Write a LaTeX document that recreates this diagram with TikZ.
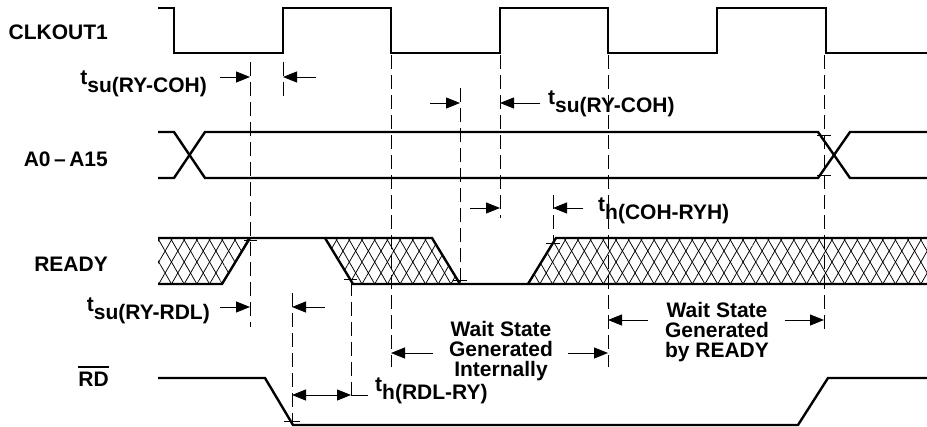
\documentclass[tikz,border=0pt]{standalone}
\usepackage{fontspec}
\setmainfont{Liberation Sans}
\usetikzlibrary{arrows.meta,patterns.meta}

\newcommand{\tparam}[1]{t\raisebox{-7.5pt}{#1}}
\newcommand{\barred}[1]{\setbox0\hbox{#1}\rlap{\rule[19pt]{\wd0}{2.2pt}}\box0}

\tikzset{
  wave/.style={line width=2.4pt,line join=miter},
  guide/.style={line width=0.7pt,dash pattern=on 14pt off 6pt},
  dim/.style={line width=0.9pt,-{Triangle[length=14pt,width=11pt]}},
  tick/.style={line width=0.7pt},
  lbl/.style={inner sep=0pt,font=\fontsize{21}{20}\selectfont\bfseries},
  hatch/.style={preaction={pattern={Lines[angle=60,distance=11pt,line width=0.75pt]}},
    pattern={Lines[angle=-60,distance=11pt,line width=0.75pt]}},
}

\begin{document}
\begin{tikzpicture}[x=1pt,y=-1pt]
    \useasboundingbox (0,0) rectangle (927,427);

    % signal names
    \node[lbl,anchor=base east] (clkname) at (108,40) {CLKOUT1};
    \node[lbl,anchor=base east] (addrname) at (108,167) {A0\,–\,A15};
    \node[lbl,anchor=base east] (rdyname) at (108,272) {READY};
    \node[lbl,anchor=base east] (rdname) at (109,387) {\barred{RD}};

    % waveforms
    \draw[wave] (158,8) -- (174,8) -- (174,53) -- (283,53) -- (283,8) -- (391,8) -- (391,53)
      -- (500,53) -- (500,8) -- (608,8) -- (608,53) -- (717,53) -- (717,8) -- (826,8)
      -- (826,53) -- (927,53);

    \draw[wave] (158,132) -- (174,132) -- (205,178) -- (818,178) -- (850,132) -- (927,132);
    \draw[wave] (158,178) -- (174,178) -- (205,132) -- (818,132) -- (850,178) -- (927,178);

    \fill[hatch] (158,238) -- (250,238) -- (222,284) -- (158,284) -- cycle;
    \fill[hatch] (325,238) -- (432,238) -- (460,284) -- (353,284) -- cycle;
    \fill[hatch] (556,238) -- (927,238) -- (927,284) -- (528,284) -- cycle;
    \draw[wave] (158,238) -- (432,238) -- (460,284);
    \draw[wave] (158,284) -- (222,284) -- (250,238);
    \draw[wave] (325,238) -- (353,284) -- (927,284);
    \draw[wave] (528,284) -- (556,238) -- (927,238);

    \draw[wave] (158,378) -- (265,378) -- (293,425) -- (798,425) -- (828,378) -- (927,378);

    % reference lines
    \draw[guide] (250,62) -- (250,327);
    \draw[guide] (283,62) -- (283,97);
    \draw[guide] (391,55) -- (391,367);
    \draw[guide] (460,88) -- (460,284);
    \draw[guide] (500,55) -- (500,218);
    \draw[guide] (553,195) -- (553,243);
    \draw[guide] (608,55) -- (608,367);
    \draw[guide] (824,55) -- (824,332);
    \draw[guide] (292,293) -- (292,425);
    \draw[guide] (351,282) -- (351,402);

    \draw[tick] (244,240) -- (257,240);
    \draw[tick] (344,279) -- (357,279);
    \draw[tick] (453,280) -- (467,280);
    \draw[tick] (546,243) -- (560,243);
    \draw[tick] (817,135) -- (831,135);
    \draw[tick] (817,175) -- (831,175);
    \draw[tick] (284,421) -- (300,421);

    % timing parameters
    \coordinate (su1a) at (220,77);  \coordinate (su1b) at (250,77);
    \coordinate (su1c) at (316,77);  \coordinate (su1d) at (283,77);
    \draw[dim] (su1a) -- (su1b);
    \draw[dim] (su1c) -- (su1d);
    \node[lbl,anchor=base east] (tsu1) at (207,85) {\tparam{su(RY-COH)}};

    \coordinate (su2a) at (430,103); \coordinate (su2b) at (460,103);
    \coordinate (su2c) at (540,103); \coordinate (su2d) at (500,103);
    \draw[dim] (su2a) -- (su2b);
    \draw[dim] (su2c) -- (su2d);
    \node[lbl,anchor=base west] (tsu2) at (548,105) {\tparam{su(RY-COH)}};

    \coordinate (h1a) at (470,208);  \coordinate (h1b) at (500,208);
    \coordinate (h1c) at (583,208);  \coordinate (h1d) at (553,208);
    \draw[dim] (h1a) -- (h1b);
    \draw[dim] (h1c) -- (h1d);
    \node[lbl,anchor=base west] (th1) at (598,212) {\tparam{h(COH-RYH)}};

    \coordinate (su3a) at (220,307); \coordinate (su3b) at (250,307);
    \coordinate (su3c) at (325,307); \coordinate (su3d) at (292,307);
    \draw[dim] (su3a) -- (su3b);
    \draw[dim] (su3c) -- (su3d);
    \node[lbl,anchor=base east] (tsu3) at (210,312) {\tparam{su(RY-RDL)}};

    \coordinate (h2a) at (292,395);  \coordinate (h2b) at (351,395);
    \coordinate (h2c) at (368,395);
    \draw[dim,{Triangle[length=14pt,width=11pt]}-{Triangle[length=14pt,width=11pt]}] (h2a) -- (h2b);
    \draw[line width=0.9pt] (h2b) -- (h2c);
    \node[lbl,anchor=base west] (th2) at (375,392) {\tparam{h(RDL-RY)}};

    % wait states
    \coordinate (ws1a) at (433,353); \coordinate (ws1b) at (391,353);
    \coordinate (ws1c) at (568,353); \coordinate (ws1d) at (608,353);
    \draw[dim] (ws1a) -- (ws1b);
    \draw[dim] (ws1c) -- (ws1d);
    \node[lbl,align=center,anchor=base] (ws1) at (501,377) {Wait State\\Generated\\Internally};

    \coordinate (ws2a) at (648,320); \coordinate (ws2b) at (608,320);
    \coordinate (ws2c) at (785,320); \coordinate (ws2d) at (824,320);
    \draw[dim] (ws2a) -- (ws2b);
    \draw[dim] (ws2c) -- (ws2d);
    \node[lbl,align=center,anchor=base] (ws2) at (717,358) {Wait State\\Generated\\by READY};
\end{tikzpicture}
\end{document}
